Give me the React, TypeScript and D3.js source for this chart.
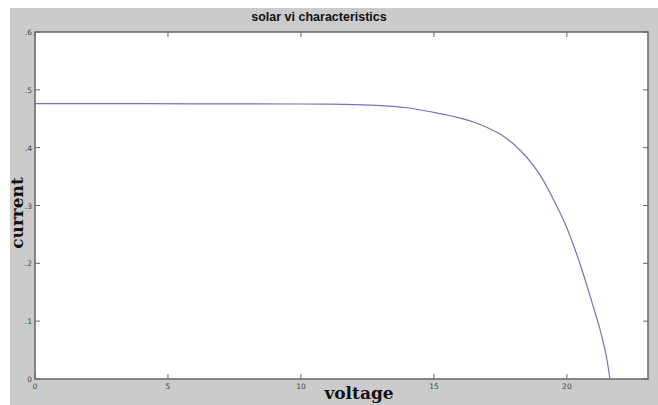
import React from "react";
import * as d3 from "d3";

const voltage = [0, 2, 4, 6, 8, 10, 11, 12, 13, 14, 15, 15.5, 16, 16.5, 17, 17.5, 18, 18.5, 19, 19.5, 20, 20.5, 21, 21.25, 21.5, 21.62];
const current = [0.476, 0.476, 0.476, 0.4758, 0.4757, 0.4755, 0.4752, 0.4745, 0.4728, 0.469, 0.461, 0.4565, 0.451, 0.444, 0.435, 0.423, 0.406, 0.383, 0.352, 0.310, 0.261, 0.198, 0.124, 0.085, 0.035, 0];
const xTicks = [0, 5, 10, 15, 20];
const yTicks = [0, 0.1, 0.2, 0.3, 0.4, 0.5, 0.6];
const yTickLabels = ["0", ".1", ".2", ".3", ".4", ".5", ".6"];

export default function App() {
  const W = 658, H = 405;
  const left = 35, right = 648, top = 32, bottom = 379;
  const x = d3.scaleLinear().domain([0, 23.05]).range([left, right]);
  const y = d3.scaleLinear().domain([0, 0.6]).range([bottom, top]);
  const pts = voltage.map((v, i) => [v, current[i]] as [number, number]);
  const line = d3.line<[number, number]>().x(d => x(d[0])).y(d => y(d[1])).curve(d3.curveMonotoneX);
  const axisColor = "#666";
  return (
    <svg width={W} height={H} style={{ position: "absolute", left: 0, top: 0 }}>
      <rect x={0} y={0} width={W} height={H} fill="#fff" />
      <rect x={10} y={8} width={W - 10} height={H - 8} fill="#cbcbcb" />
      <rect x={left} y={top} width={right - left} height={bottom - top} fill="#fff" />
      <path d={line(pts) || ""} fill="none" stroke="#7272c4" strokeWidth={1.2} />
      <rect x={left} y={top} width={right - left} height={bottom - top} fill="none" stroke={axisColor} strokeWidth={1.5} />
      {xTicks.map(t => (
        <g key={"x" + t}>
          <line x1={x(t)} x2={x(t)} y1={bottom} y2={bottom - 5} stroke={axisColor} />
          <line x1={x(t)} x2={x(t)} y1={top} y2={top + 5} stroke={axisColor} />
          <text x={x(t)} y={bottom + 10} fontSize={7.5} fontFamily="DejaVu Sans" fill="#444" textAnchor="middle">{t}</text>
        </g>
      ))}
      {yTicks.map((t, i) => (
        <g key={"y" + t}>
          <line x1={left} x2={left + 5} y1={y(t)} y2={y(t)} stroke={axisColor} />
          <line x1={right} x2={right - 5} y1={y(t)} y2={y(t)} stroke={axisColor} />
          <text x={left - 3} y={y(t) + 3} fontSize={7.5} fontFamily="DejaVu Sans" fill="#444" textAnchor="end">{yTickLabels[i]}</text>
        </g>
      ))}
      <text x={319} y={21} fontSize={12.5} fontWeight="bold" fontFamily="Liberation Sans" fill="#111" textAnchor="middle">solar vi characteristics</text>
      <text x={359} y={399} fontSize={17} fontWeight="bold" fontFamily="DejaVu Serif" fill="#111" textAnchor="middle">voltage</text>
      <text transform={`translate(23,213) rotate(-90)`} fontSize={17} fontWeight="bold" fontFamily="DejaVu Serif" fill="#111" textAnchor="middle">current</text>
    </svg>
  );
}
